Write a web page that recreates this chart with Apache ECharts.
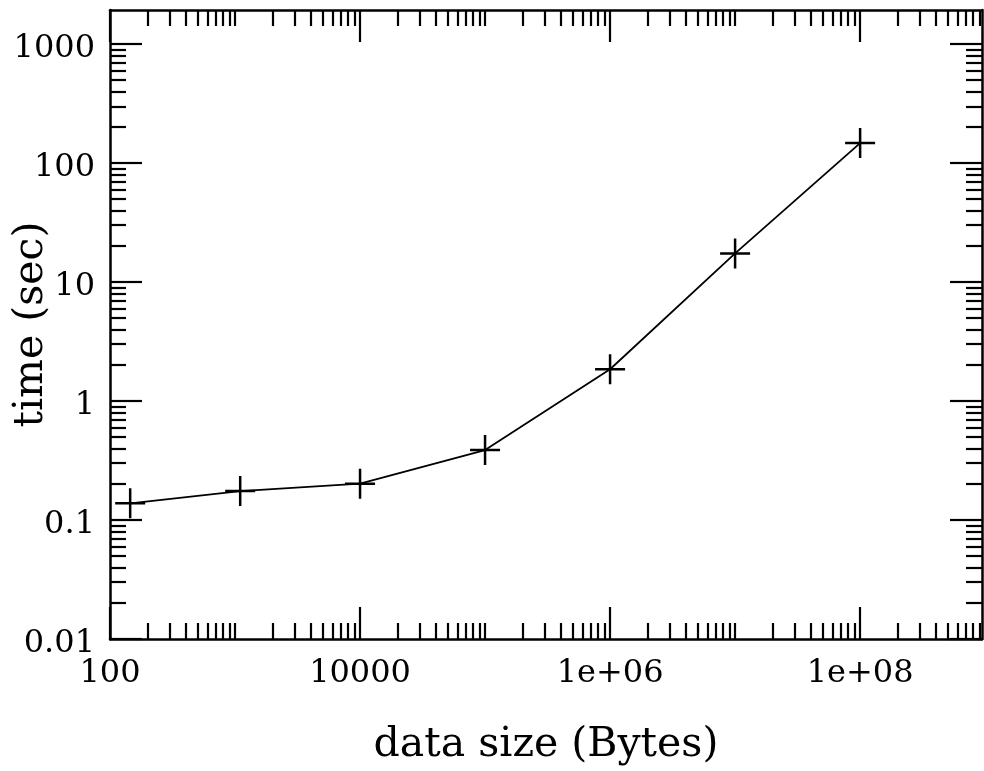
<!DOCTYPE html>
<html><head><meta charset="utf-8">
<script src="https://cdn.jsdelivr.net/npm/echarts@6/dist/echarts.min.js"></script>
<style>html,body{margin:0;padding:0;background:#fff}#c{width:984px;height:771px}</style>
</head><body><div id="c"></div>
<script>
// ---- data ----
const dataSize = [145, 1100, 10000, 100000, 1000000, 10000000, 100000000];
const timeSec  = [0.138, 0.175, 0.202, 0.387, 1.85, 17.4, 147];
// ---- axes ----
const xRange = [100, 9.44e8];
const yRange = [0.01, 1932];
const xTickValues = [100, 10000, 1000000, 100000000];
const xTickLabels = ['100', '10000', '1e+06', '1e+08'];
const yTickValues = [0.01, 0.1, 1, 10, 100, 1000];
const yTickLabels = ['0.01', '0.1', '1', '10', '100', '1000'];
const xTitle = 'data size (Bytes)';
const yTitle = 'time (sec)';

function minorTicks(range, majors) {
  const out = [];
  const n0 = Math.floor(Math.log10(range[0])), n1 = Math.ceil(Math.log10(range[1]));
  for (let n = n0; n <= n1; n++) {
    for (let k = 1; k <= 9; k++) {
      const v = Number((k * Math.pow(10, n)).toPrecision(6));
      if (v < range[0] * 0.9999 || v > range[1] * 1.0001) continue;
      if (majors.some(m => Math.abs(Math.log10(m) - Math.log10(v)) < 1e-6)) continue;
      out.push(v);
    }
  }
  return out;
}
function fmt(values, labels) {
  return function (val) {
    const l = Math.log10(val);
    for (let i = 0; i < values.length; i++) {
      if (Math.abs(Math.log10(values[i]) - l) < 1e-6) return labels[i];
    }
    return '';
  };
}
const FONT = 'DejaVu Serif';
const BLACK = '#000';
const xMinor = minorTicks(xRange, xTickValues);
const yMinor = minorTicks(yRange, yTickValues);

function makeAxis(pos, range, ticks, len, showLine, extra) {
  return Object.assign({
    type: 'log', logBase: 10, position: pos, min: range[0], max: range[1],
    axisLine: { show: showLine, onZero: false, lineStyle: { color: BLACK, width: 2.5 } },
    axisTick: { show: true, inside: true, length: len, customValues: ticks, lineStyle: { color: BLACK, width: 2.2 } },
    axisLabel: { show: false },
    splitLine: { show: false },
    minorTick: { show: false },
    axisPointer: { show: false },
    nameMoveOverlap: false,
    silent: true
  }, extra || {});
}

const xAxes = [
  makeAxis('bottom', xRange, xTickValues, 32, true, {
    axisLabel: { show: true, customValues: xTickValues, formatter: fmt(xTickValues, xTickLabels),
      fontFamily: FONT, fontSize: 32, color: BLACK, margin: 19 },
    name: xTitle, nameLocation: 'middle', nameGap: 86,
    nameTextStyle: { fontFamily: FONT, fontSize: 41, color: BLACK }
  }),
  makeAxis('bottom', xRange, xMinor, 16, false),
  makeAxis('top', xRange, xTickValues, 32, true),
  makeAxis('top', xRange, xMinor, 16, false)
];
const yAxes = [
  makeAxis('left', yRange, yTickValues, 32, true, {
    axisLabel: { show: true, customValues: yTickValues, formatter: fmt(yTickValues, yTickLabels),
      fontFamily: FONT, fontSize: 32, color: BLACK, margin: 15,
      verticalAlign: 'top', lineHeight: 9 },
    name: yTitle, nameLocation: 'middle', nameGap: 58, nameRotate: 90,
    nameTextStyle: { fontFamily: FONT, fontSize: 41, color: BLACK }
  }),
  makeAxis('left', yRange, yMinor, 16, false),
  makeAxis('right', yRange, yTickValues, 32, true),
  makeAxis('right', yRange, yMinor, 16, false)
];

const chart = echarts.init(document.getElementById('c'), null, { renderer: 'canvas' });
chart.setOption({
  animation: false,
  backgroundColor: '#fff',
  grid: { left: 110, right: 2, top: 10, bottom: 132, containLabel: false, outerBoundsMode: 'none' },
  xAxis: xAxes,
  yAxis: yAxes,
  series: [{
    type: 'line',
    xAxisIndex: 0, yAxisIndex: 0,
    data: dataSize.map((x, i) => [x, timeSec[i]]),
    lineStyle: { color: BLACK, width: 1.8 },
    symbol: 'path://M15,0 L15,30 M0,15 L30,15',
    symbolSize: 30,
    itemStyle: { color: BLACK, borderColor: BLACK, borderWidth: 2.5 },
    showSymbol: true,
    silent: true
  }]
});
</script>
</body></html>
